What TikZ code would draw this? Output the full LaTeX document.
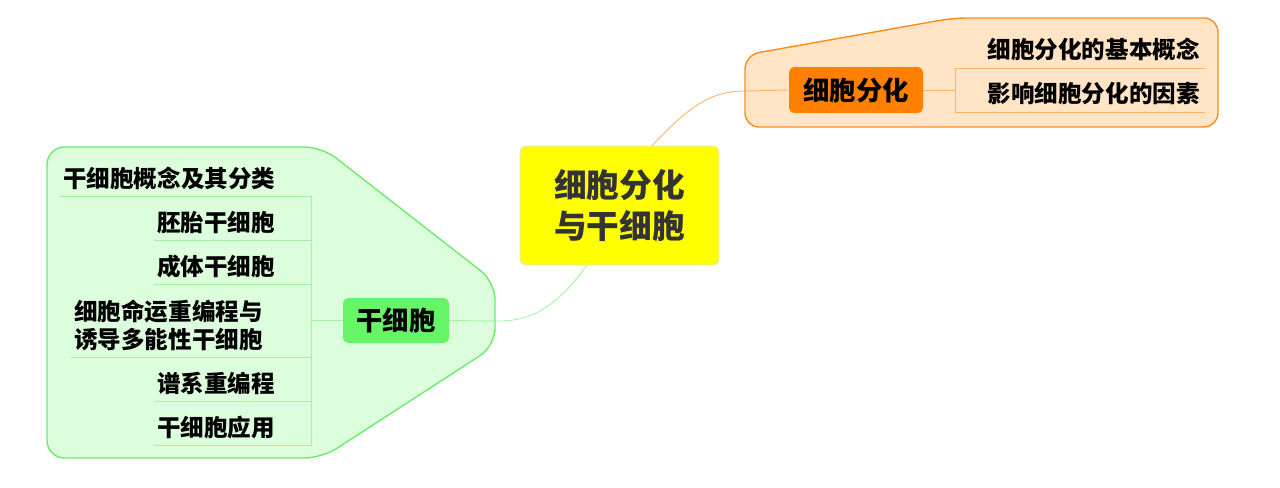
\documentclass[tikz,border=0pt]{standalone}
\usepackage{fontspec}
\setmainfont{Noto Sans CJK SC}
\usepackage{xcolor}
\usetikzlibrary{positioning}

\definecolor{orgdraw}{HTML}{FF8C1A}
\definecolor{orgfill}{HTML}{FFE4C6}
\definecolor{orgnode}{HTML}{FF8000}
\definecolor{orgthin}{HTML}{FFB36B}
\definecolor{grndraw}{HTML}{6CEB6C}
\definecolor{grnfill}{HTML}{DDFEDD}
\definecolor{grnnode}{HTML}{66F566}
\definecolor{grnthin}{HTML}{A4F2A4}
\definecolor{rootfill}{HTML}{FFFF00}

\begin{document}
\begin{tikzpicture}[x=0.02cm, y=-0.02cm]
\tikzstyle{rootbox} = [rectangle, rounded corners=3.5pt, align=center,
    minimum width=3.98cm, minimum height=2.38cm,
    draw=black!12, fill=rootfill, text=black!80,
    font=\fontsize{18.6}{23.3}\selectfont\bfseries]
\tikzstyle{orgtopic} = [rectangle, rounded corners=3pt,
    minimum width=2.68cm, minimum height=0.92cm,
    fill=orgnode, text centered,
    font=\fontsize{15}{17}\selectfont\bfseries]
\tikzstyle{grntopic} = [rectangle, rounded corners=3pt,
    minimum width=2.12cm, minimum height=0.9cm,
    fill=grnnode, text centered,
    font=\fontsize{15}{17}\selectfont\bfseries]
\tikzstyle{orgitem} = [rectangle, align=right, inner xsep=0.1cm,
    inner ysep=3pt, text width=4.78cm, minimum height=0.72cm,
    font=\fontsize{13.4}{16.4}\selectfont\bfseries]
\tikzstyle{grnitem} = [rectangle, align=left, inner xsep=0.06cm,
    inner ysep=3pt, minimum height=0.68cm,
    font=\fontsize{13.4}{16.4}\selectfont\bfseries]
\tikzstyle{orgline} = [draw=orgthin, line width=0.5pt]
\tikzstyle{grnline} = [draw=grnthin, line width=0.5pt]

\useasboundingbox (0,0) rectangle (1280,487);

% --- GROUP OUTLINES ---
\draw [draw=orgdraw, fill=orgfill, line width=0.8pt, rounded corners=8pt]
    (745,127) -- (745,55) -- (953,18) -- (1218,18) -- (1218,127) -- cycle;
\draw [draw=grndraw, fill=grnfill, line width=0.8pt, rounded corners=10pt]
    (47,458) -- (47,147) -- (322,147) -- (495,282) -- (495,346)
    -- (322,458) -- cycle;
% ----------------------

\node (root) [rootbox] at (619.5,205.5) {细胞分化\\与干细胞};

\node (diff) [orgtopic] at (856,90) {细胞分化};
\node (diff1) [orgitem, anchor=south east] at (1205,68)
    {细胞分化的基本概念};
\node (diff2) [orgitem, anchor=south east] at (1205,112)
    {影响细胞分化的因素};

\node (stem) [grntopic] at (396,320.5) {干细胞};
\node (stem1) [grnitem, text width=4.9cm, anchor=south west] at (60,196)
    {干细胞概念及其分类};
\node (stem2) [grnitem, text width=3.02cm, anchor=south west] at (154,240)
    {胚胎干细胞};
\node (stem3) [grnitem, text width=3.02cm, anchor=south west] at (154,284)
    {成体干细胞};
\node (stem4) [grnitem, text width=4.68cm, anchor=south west] at (71,357)
    {细胞命运重编程与\\诱导多能性干细胞};
\node (stem5) [grnitem, text width=3.02cm, anchor=south west] at (154,401)
    {谱系重编程};
\node (stem6) [grnitem, text width=3.02cm, anchor=south west] at (154,445)
    {干细胞应用};

% --- CONNECTORS ---
\coordinate (rootup) at ([xshift=0.65cm]root.north);
\coordinate (rootdown) at ([xshift=-0.65cm]root.south);
\draw [orgline] (rootup) .. controls (690,105) and (712,91) .. (745,91)
    -- (diff.west);
\draw [grnline] (rootdown) .. controls (565,295) and (540,321) .. (500,321)
    -- (stem.east);

\draw [orgline] (diff.east) -- (diff.east -| diff1.south west);
\draw [orgline] (diff1.south west) -- (diff2.south west);
\foreach \n in {diff1,diff2}
    \draw [orgline] (\n.south west) -- (\n.south east);

\draw [grnline] (stem.west) -- (stem.west -| stem1.east);
\draw [grnline] (stem1.south east) -- (stem6.south east);
\foreach \n in {stem1,stem2,stem3,stem4,stem5,stem6}
    \draw [grnline] (\n.south west) -- (\n.south east);
% ------------------
\end{tikzpicture}
\end{document}
